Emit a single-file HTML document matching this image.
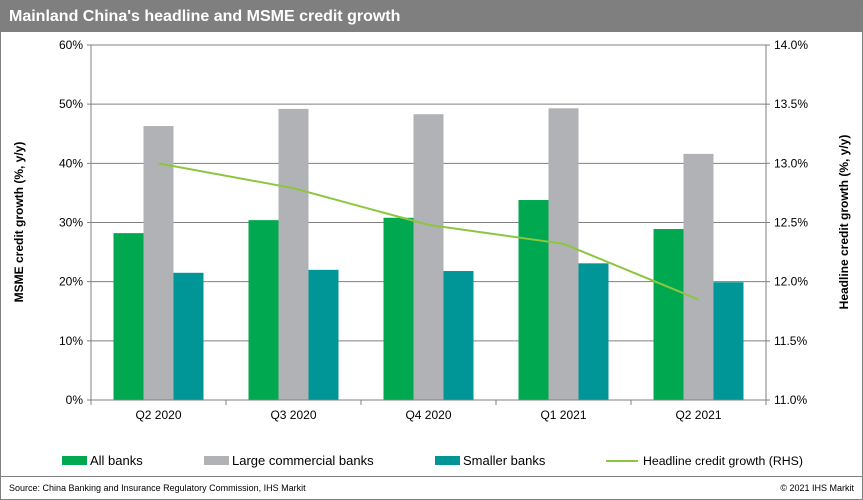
<!DOCTYPE html>
<html><head><meta charset="utf-8"><style>
body{margin:0;width:863px;height:500px;overflow:hidden;background:#fff;font-family:"Liberation Sans",Arial,sans-serif}
#wrap{position:absolute;left:0;top:0;width:861px;height:498px;border:1px solid #808080}
#title{position:absolute;left:0;top:0;width:861px;height:31px;background:#7f7f7f;color:#fff;font-weight:bold;font-size:16px;line-height:31px;padding-left:8px;box-sizing:border-box}
#foot{position:absolute;left:0;top:475px;width:861px;border-top:1px solid #808080;font-size:9px;color:#000}
</style></head><body>
<div id="wrap">
<div id="title">Mainland China's headline and MSME credit growth</div>
<svg id="chart" width="863" height="475" style="position:absolute;left:0;top:0"></svg>
<div id="foot"><span style="position:absolute;left:8px;top:6px">Source: China Banking and Insurance Regulatory Commission, IHS Markit</span><span style="position:absolute;right:8px;top:6px">© 2021 IHS Markit</span></div>
</div>
<script>
const categories=["Q2 2020","Q3 2020","Q4 2020","Q1 2021","Q2 2021"];
const allBanks=[28.2,30.4,30.8,33.8,28.9];
const largeBanks=[46.3,49.2,48.3,49.3,41.6];
const smallerBanks=[21.5,22.0,21.8,23.1,19.9];
const headline=[13.0,12.79,12.48,12.32,11.85];
const leftTicks=[0,10,20,30,40,50,60];
const rightTicks=[11.0,11.5,12.0,12.5,13.0,13.5,14.0];
const NS="http://www.w3.org/2000/svg";
const svg=document.getElementById('chart');
const X0=90,X1=765,Y0=399,Y1=44;
const cw=(X1-X0)/categories.length;
const yL=v=>Y0-(v-0)/60*(Y0-Y1);
const yR=v=>Y0-(v-11)/3*(Y0-Y1);
function el(t,a,txt){const e=document.createElementNS(NS,t);for(const k in a)e.setAttribute(k,a[k]);if(txt!=null)e.textContent=txt;svg.appendChild(e);return e;}
leftTicks.forEach((t,i)=>{
 const g=el('line',{x1:X0-4,x2:X1,y1:yL(t),y2:yL(t),stroke:'#808080','stroke-width':1});
 
 const l=el('text',{x:X0-8,y:yL(t)+4,'text-anchor':'end','font-size':12},t+'%');
 
});
rightTicks.forEach(t=>{
 const tk=el('line',{x1:X1,x2:X1+4,y1:yR(t),y2:yR(t),stroke:'#808080'});
 
 const l=el('text',{x:X1+8,y:yR(t)+4,'font-size':12},t.toFixed(1)+'%');
 
});
const ax=el('line',{x1:X0,x2:X0,y1:Y1,y2:Y0,stroke:'#808080'});
const ax2=el('line',{x1:X1,x2:X1,y1:Y1,y2:Y0,stroke:'#808080'});
const series=[[allBanks,'#00a94f','bar-all-banks'],[largeBanks,'#b1b2b5','bar-large-banks'],[smallerBanks,'#009698','bar-smaller-banks']];
const bw=30;
categories.forEach((c,i)=>{
 const x=X0+i*cw;
 const tk=el('line',{x1:x,x2:x,y1:Y0,y2:Y0+5,stroke:'#808080'});
 series.forEach((s,j)=>{
  const r=el('rect',{x:x+cw/2-1.5*bw+j*bw,y:yL(s[0][i]),width:bw,height:Y0-yL(s[0][i]),fill:s[1]});
  
 });
 const l=el('text',{x:x+cw/2,y:Y0+19,'text-anchor':'middle','font-size':12},c);
 
});
const te=el('line',{x1:X1,x2:X1,y1:Y0,y2:Y0+5,stroke:'#808080'});
const bl=el('line',{x1:X0,x2:X1,y1:Y0,y2:Y0,stroke:'#808080'});
const pts=headline.map((v,i)=>(X0+i*cw+cw/2)+','+yR(v)).join(' ');
const pl=el('polyline',{points:pts,fill:'none',stroke:'#8cc63f','stroke-width':2});

const yt=el('text',{transform:'translate(22,221) rotate(-90)','text-anchor':'middle','font-size':12,'font-weight':'bold'},'MSME credit growth (%, y/y)');

const yt2=el('text',{transform:'translate(847,221) rotate(-90)','text-anchor':'middle','font-size':12,'font-weight':'bold'},'Headline credit growth (%, y/y)');

const leg=[[61,'#00a94f','All banks','legend-all-banks'],[203,'#b1b2b5','Large commercial banks','legend-large-banks'],[434,'#009698','Smaller banks','legend-smaller-banks']];
leg.forEach(l=>{
 const r=el('rect',{x:l[0],y:455,width:25,height:9,fill:l[1]});
 const t=el('text',{x:l[0]+28,y:464,'font-size':13},l[2]);
});
const lm=el('line',{x1:605,x2:637,y1:460,y2:460,stroke:'#8cc63f','stroke-width':2});
const lt=el('text',{x:642,y:464,'font-size':12.3},'Headline credit growth (RHS)');
</script>
</body></html>
